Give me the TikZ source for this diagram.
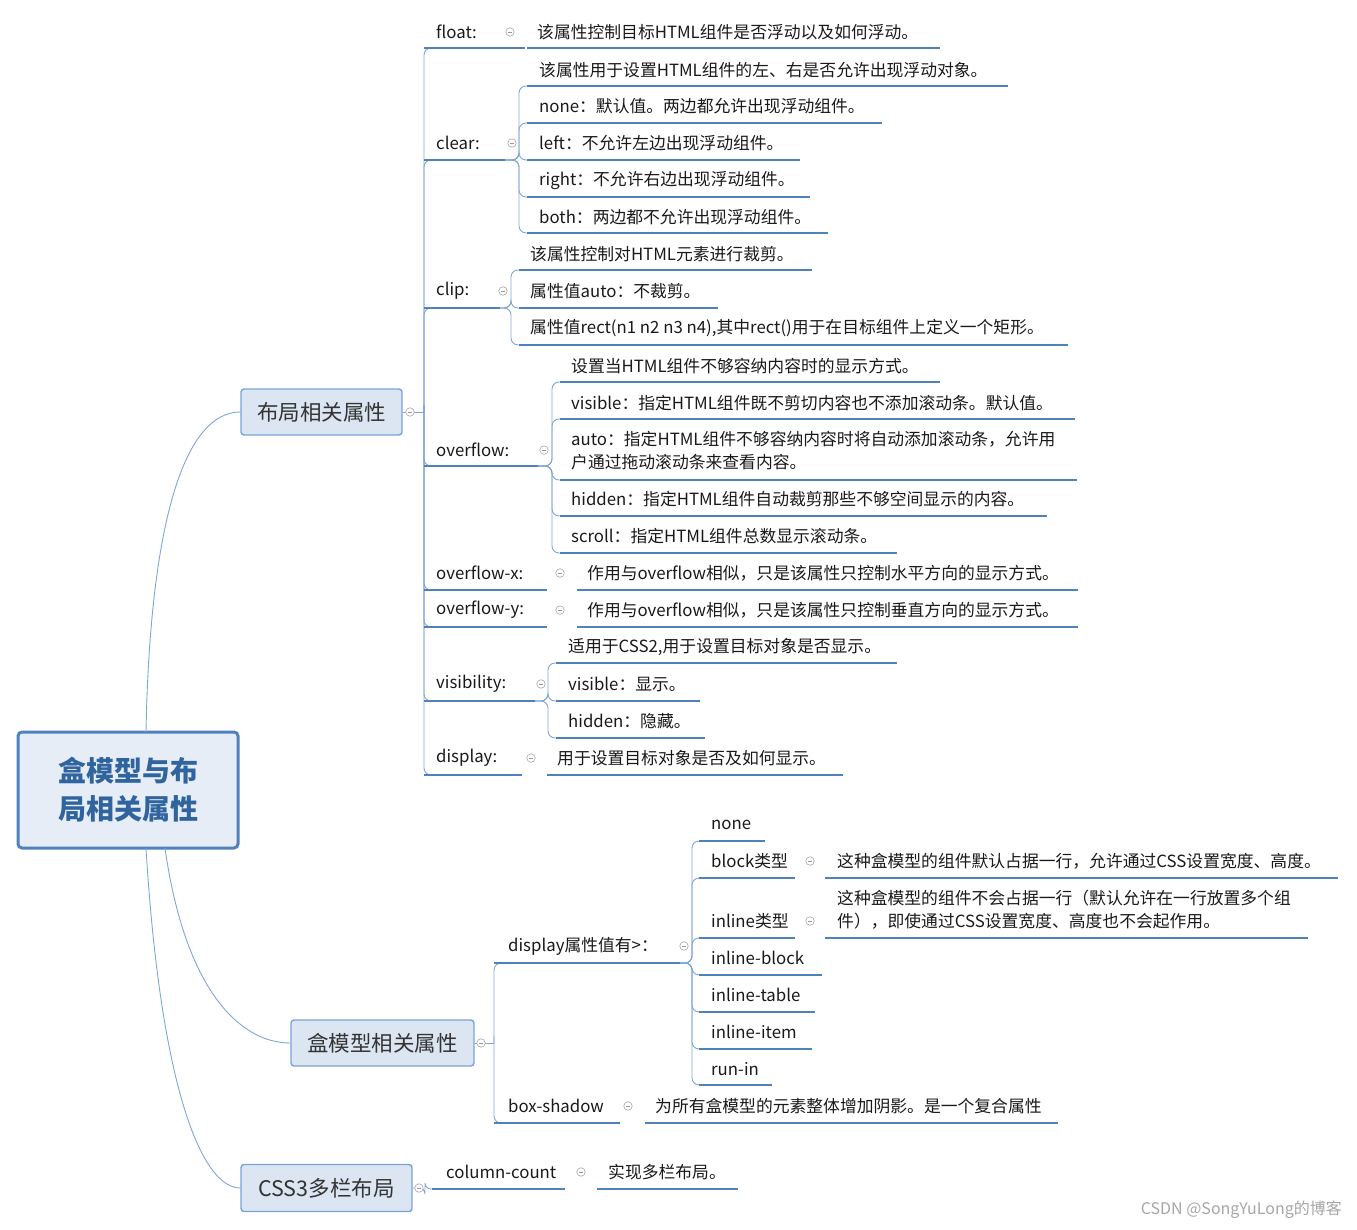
\documentclass[tikz,border=0pt]{standalone}
\usepackage{fontspec}
\setmainfont{Noto Sans CJK SC}
\definecolor{lc}{HTML}{7FA6D6}
\definecolor{uc}{HTML}{4F81BD}
\definecolor{bf}{HTML}{DCE6F2}
\definecolor{bd}{HTML}{7BA3D6}
\definecolor{rt}{HTML}{2F649E}
\newcommand\tf{\fontsize{16.8}{23}\selectfont}
\newcommand\cn[4]{\draw[ln,rounded corners=7] (#1,#2) -- (#3,#2) |- ({#3+9},#4);}
\newcommand\ulx[3]{\draw[ul] (#1,#3) -- (#2,#3);}
\newcommand\cir[3]{\node[cic] (#1) at (#2,#3) {}; \draw[gray!80,line width=0.6pt] ({#2-2.2},#3) -- ({#2+2.2},#3);}
\begin{document}
\begin{tikzpicture}[x=1pt,y=-1pt,
  ln/.style={draw=lc,line width=0.9pt},
  ul/.style={draw=uc,line width=2.2pt},
  tx/.style={anchor=west,inner sep=0pt,font=\tf,text=black!90,align=left},
  cic/.style={circle,draw=gray!70,line width=0.6pt,minimum size=8.5pt,inner sep=0pt,fill=white},
  bx/.style={draw=bd,fill=bf,line width=1.4pt,rounded corners=3pt,inner sep=0pt,font=\fontsize{21.5}{24}\selectfont,text=black!80}]
\useasboundingbox (0,0) rectangle (1357,1230);
% root
\node[draw=uc,fill=bf!70,line width=3pt,rounded corners=4pt,minimum width=220pt,minimum height=116pt,inner sep=0pt,align=center,font=\fontsize{28}{38}\selectfont\bfseries,text=rt] (root) at (128,790) {盒模型与布\\局相关属性};
\node[bx,minimum width=161pt,minimum height=46pt] (b1) at (321.5,412) {布局相关属性};
\node[bx,minimum width=183pt,minimum height=46pt] (b2) at (382.5,1043) {盒模型相关属性};
\node[bx,minimum width=171pt,minimum height=47pt] (b3) at (326.5,1188) {CSS3多栏布局};
\draw[ln] (146,732) .. controls (150,520) and (185,412) .. (b1.west);
\draw[ln] (165,848) .. controls (185,990) and (240,1043) .. (b2.west);
\draw[ln] (146,848) .. controls (160,1080) and (200,1188) .. (b3.west);
% ---------- branch 1 ----------
\draw[ln] (b1.east) -- (424,412);
\foreach \y in {48,160,308,466,590,627,701,775} {\cn{424}{412}{424}{\y}}
% float
\node[tx] (f) at (436,32) {float:}; \ulx{424}{525}{48}
\node[tx] (f1) at (537,32) {该属性控制目标HTML组件是否浮动以及如何浮动。}; \ulx{527}{940}{48}
\cir{cf}{510}{32}
% clear
\node[tx] (c) at (436,143) {clear:}; \ulx{424}{505}{160}
\foreach \y in {86,123,160,197,233} {\cn{505}{160}{519}{\y}}
\node[tx] (c1) at (539,70) {该属性用于设置HTML组件的左、右是否允许出现浮动对象。}; \ulx{527}{1008}{86}
\node[tx] (c2) at (539,106) {none：默认值。两边都允许出现浮动组件。}; \ulx{527}{882}{123}
\node[tx] (c3) at (539,143) {left：不允许左边出现浮动组件。}; \ulx{527}{800}{160}
\node[tx] (c4) at (539,180) {right：不允许右边出现浮动组件。}; \ulx{527}{810}{197}
\node[tx] (c5) at (539,217) {both：两边都不允许出现浮动组件。}; \ulx{527}{828}{233}
\cir{cc}{512}{143}
% clip
\node[tx] (k) at (436,291) {clip:}; \ulx{424}{500}{308}
\foreach \y in {270,308,345} {\cn{500}{308}{511}{\y}}
\node[tx] (k1) at (530,254) {该属性控制对HTML元素进行裁剪。}; \ulx{519}{812}{270}
\node[tx] (k2) at (530,291) {属性值auto：不裁剪。}; \ulx{519}{718}{308}
\node[tx] (k3) at (530,328) {属性值rect(n1 n2 n3 n4),其中rect()用于在目标组件上定义一个矩形。}; \ulx{519}{1068}{345}
\cir{ck}{503}{291}
% overflow
\node[tx] (o) at (436,450) {overflow:}; \ulx{424}{538}{466}
\foreach \y in {382,419,480,516,553} {\cn{538}{466}{552}{\y}}
\node[tx] (o1) at (571,366) {设置当HTML组件不够容纳内容时的显示方式。}; \ulx{560}{940}{382}
\node[tx] (o2) at (571,403) {visible：指定HTML组件既不剪切内容也不添加滚动条。默认值。}; \ulx{560}{1075}{419}
\node[tx] (o3) at (571,451) {auto：指定HTML组件不够容纳内容时将自动添加滚动条，允许用\\户通过拖动滚动条来查看内容。}; \ulx{560}{1077}{480}
\node[tx] (o4) at (571,499) {hidden：指定HTML组件自动裁剪那些不够空间显示的内容。}; \ulx{560}{1047}{516}
\node[tx] (o5) at (571,536) {scroll：指定HTML组件总数显示滚动条。}; \ulx{560}{897}{553}
\cir{co}{544}{450}
% overflow-x/y
\node[tx] (ox) at (436,573) {overflow-x:}; \ulx{424}{547}{590} \ulx{577}{1078}{590}
\node[tx] (ox1) at (587,573) {作用与overflow相似，只是该属性只控制水平方向的显示方式。};
\cir{cox}{560}{573}
\node[tx] (oy) at (436,610) {overflow-y:}; \ulx{424}{547}{627} \ulx{577}{1078}{627}
\node[tx] (oy1) at (587,610) {作用与overflow相似，只是该属性只控制垂直方向的显示方式。};
\cir{coy}{560}{610}
% visibility
\node[tx] (v) at (436,684) {visibility:}; \ulx{424}{535}{701}
\foreach \y in {663,701,738} {\cn{535}{701}{548}{\y}}
\node[tx] (v1) at (568,647) {适用于CSS2,用于设置目标对象是否显示。}; \ulx{556}{897}{663}
\node[tx] (v2) at (568,684) {visible：显示。}; \ulx{556}{700}{701}
\node[tx] (v3) at (568,721) {hidden：隐藏。}; \ulx{556}{705}{738}
\cir{cv}{541}{684}
% display
\node[tx] (d) at (436,758) {display:}; \ulx{424}{522}{775} \ulx{547}{843}{775}
\node[tx] (d1) at (557,758) {用于设置目标对象是否及如何显示。};
\cir{cd}{531}{758}
% ---------- branch 2 ----------
\draw[ln] (b2.east) -- (494,1043);
\foreach \y in {963,1123} {\cn{494}{1043}{494}{\y}}
\node[tx] (p) at (508,946) {display属性值有>：}; \ulx{494}{680}{963}
\foreach \y in {841,878,938,975,1012,1049,1085} {\cn{680}{963}{692}{\y}}
\node[tx] (p1) at (711,825) {none}; \ulx{699}{765}{841}
\node[tx] (p2) at (711,861) {block类型}; \ulx{699}{795}{878} \ulx{825}{1338}{878}
\node[tx] (p2a) at (837,861) {这种盒模型的组件默认占据一行，允许通过CSS设置宽度、高度。};
\node[tx] (p3) at (711,921) {inline类型}; \ulx{699}{795}{938} \ulx{825}{1308}{938}
\node[tx] (p3a) at (837,910) {这种盒模型的组件不会占据一行（默认允许在一行放置多个组\\件），即使通过CSS设置宽度、高度也不会起作用。};
\node[tx] (p4) at (711,958) {inline-block}; \ulx{699}{822}{975}
\node[tx] (p5) at (711,995) {inline-table}; \ulx{699}{815}{1012}
\node[tx] (p6) at (711,1032) {inline-item}; \ulx{699}{812}{1049}
\node[tx] (p7) at (711,1069) {run-in}; \ulx{699}{772}{1085}
\cir{cp}{684}{946}
\cir{cp2}{810}{861}
\cir{cp3}{810}{921}
\node[tx] (s) at (508,1106) {box-shadow}; \ulx{494}{620}{1123} \ulx{645}{1058}{1123}
\node[tx] (s1) at (655,1106) {为所有盒模型的元素整体增加阴影。是一个复合属性};
\cir{cs}{628}{1106}
% ---------- branch 3 ----------
\draw[ln,rounded corners=6] (b3.east) -- (425,1188) |- (436,1189);
\node[tx] (cc0) at (446,1172) {column-count}; \ulx{432}{565}{1189} \ulx{597}{738}{1189}
\node[tx] (cc1) at (608,1172) {实现多栏布局。};
\cir{ccc}{581}{1172}
\cir{cb1}{410}{412}
\cir{cb2}{481}{1043}
\cir{cb3}{419}{1188}
\node[anchor=east,inner sep=0pt,font=\fontsize{16}{18}\selectfont,text=gray!70] (wm) at (1342,1210) {CSDN @SongYuLong的博客};
\end{tikzpicture}
\end{document}
